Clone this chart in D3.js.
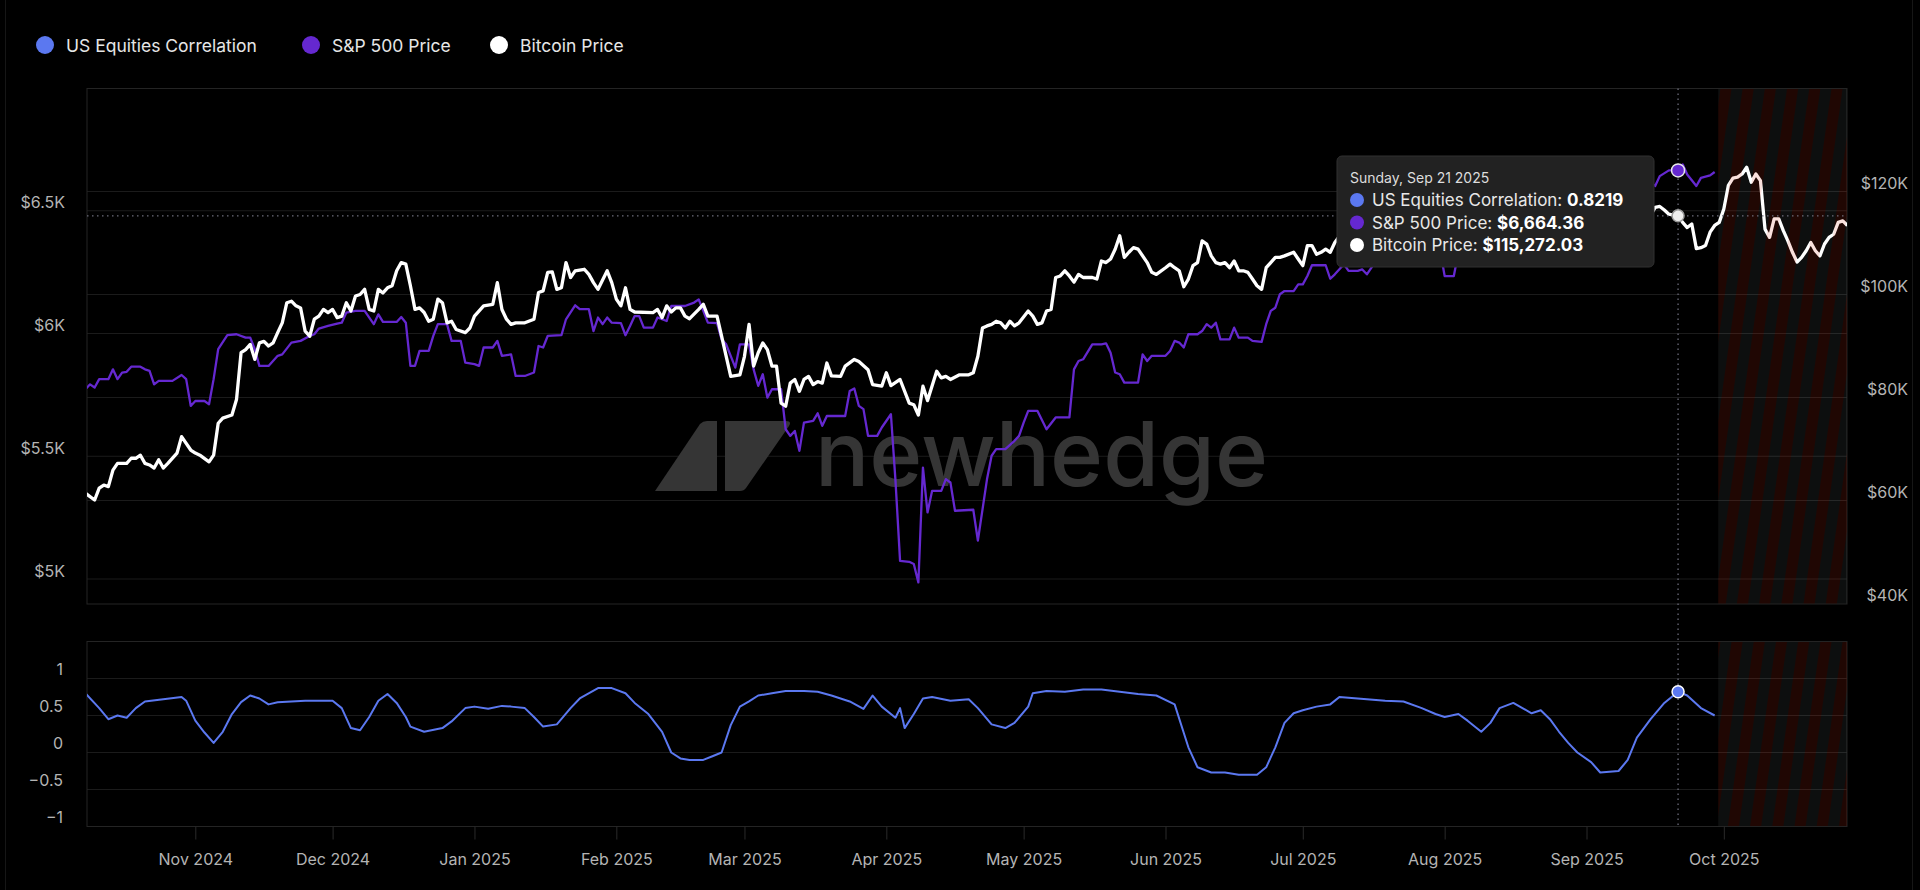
<!DOCTYPE html>
<html>
<head>
<meta charset="utf-8">
<script src="https://cdn.jsdelivr.net/npm/d3@7"></script>
<style>
html, body { margin: 0; padding: 0; background: #000; }
svg { display: block; font-family: Inter, "Noto Sans", sans-serif; }
</style>
</head>
<body>
<div id="chart"></div>
<script>
// ----- data -----
var legendNames = ['US Equities Correlation', 'S&P 500 Price', 'Bitcoin Price'];
var spxTicks = [5000, 5500, 6000, 6500];
var btcTicks = [40000, 60000, 80000, 100000, 120000];
var corrTicks = [-1, -0.5, 0, 0.5, 1];
var monthTicks = ['2024-11-01', '2024-12-01', '2025-01-01', '2025-02-01', '2025-03-01', '2025-04-01',
                  '2025-05-01', '2025-06-01', '2025-07-01', '2025-08-01', '2025-09-01', '2025-10-01'];

var btcPrice = [
  ['2024-10-08',61400],['2024-10-10',60100],['2024-10-11',62400],['2024-10-12',63000],['2024-10-13',62700],
  ['2024-10-14',65900],['2024-10-15',67200],['2024-10-17',67200],['2024-10-18',68200],['2024-10-19',68200],
  ['2024-10-20',68800],['2024-10-21',67200],['2024-10-22',66900],['2024-10-23',66300],['2024-10-24',67900],
  ['2024-10-25',66300],['2024-10-26',67200],['2024-10-28',69200],['2024-10-29',72400],['2024-10-31',69800],
  ['2024-11-01',69200],['2024-11-02',68800],['2024-11-04',67500],['2024-11-05',68800],['2024-11-06',75000],
  ['2024-11-07',76000],['2024-11-09',76600],['2024-11-10',79600],['2024-11-11',88700],['2024-11-12',89300],
  ['2024-11-13',90300],['2024-11-14',87400],['2024-11-15',90600],['2024-11-16',90900],['2024-11-17',90000],
  ['2024-11-18',90600],['2024-11-19',92600],['2024-11-20',94500],['2024-11-21',98400],['2024-11-22',98700],
  ['2024-11-23',97800],['2024-11-24',97400],['2024-11-25',92900],['2024-11-26',91900],['2024-11-27',95200],
  ['2024-11-28',95800],['2024-11-29',97100],['2024-11-30',96500],['2024-12-01',97100],['2024-12-02',95500],
  ['2024-12-03',95800],['2024-12-04',98400],['2024-12-05',96800],['2024-12-06',99700],['2024-12-07',100000],
  ['2024-12-08',101000],['2024-12-09',97100],['2024-12-10',96800],['2024-12-11',101000],['2024-12-12',100300],
  ['2024-12-13',101300],['2024-12-14',101700],['2024-12-15',104600],['2024-12-16',106200],['2024-12-17',105900],
  ['2024-12-18',101700],['2024-12-19',97100],['2024-12-20',97400],['2024-12-21',96500],['2024-12-22',94800],
  ['2024-12-23',95200],['2024-12-24',99100],['2024-12-25',98400],['2024-12-26',94500],['2024-12-27',94800],
  ['2024-12-28',93200],['2024-12-30',92600],['2024-12-31',93500],['2025-01-01',95800],['2025-01-03',97800],
  ['2025-01-05',98100],['2025-01-06',102300],['2025-01-07',97100],['2025-01-08',95200],['2025-01-09',94200],
  ['2025-01-10',94500],['2025-01-12',94500],['2025-01-14',95200],['2025-01-15',100400],['2025-01-16',100700],
  ['2025-01-17',104300],['2025-01-18',104400],['2025-01-19',101000],['2025-01-20',101300],['2025-01-21',106200],
  ['2025-01-22',103300],['2025-01-23',104600],['2025-01-25',104900],['2025-01-26',103900],['2025-01-27',102300],
  ['2025-01-28',101000],['2025-01-30',104600],['2025-01-31',102300],['2025-02-01',99100],['2025-02-02',97800],
  ['2025-02-03',101300],['2025-02-04',97100],['2025-02-05',96600],['2025-02-09',96500],['2025-02-10',97100],
  ['2025-02-11',95500],['2025-02-12',97800],['2025-02-13',96600],['2025-02-14',97400],['2025-02-15',97400],
  ['2025-02-16',95800],['2025-02-17',95300],['2025-02-19',97100],['2025-02-20',98100],['2025-02-21',95800],
  ['2025-02-23',95800],['2025-02-24',91900],['2025-02-26',84100],['2025-02-28',84400],['2025-03-01',88000],
  ['2025-03-02',94200],['2025-03-03',86100],['2025-03-04',88700],['2025-03-05',90600],['2025-03-06',89300],
  ['2025-03-07',86100],['2025-03-08',86100],['2025-03-09',78900],['2025-03-10',78300],['2025-03-11',82800],
  ['2025-03-12',83500],['2025-03-13',81200],['2025-03-14',83500],['2025-03-15',84100],['2025-03-16',82500],
  ['2025-03-17',83100],['2025-03-18',82800],['2025-03-19',86700],['2025-03-20',84200],['2025-03-22',84100],
  ['2025-03-23',86100],['2025-03-25',87400],['2025-03-26',87000],['2025-03-28',85400],['2025-03-29',82500],
  ['2025-03-31',82200],['2025-04-01',84800],['2025-04-02',82300],['2025-04-04',83500],['2025-04-06',78900],
  ['2025-04-07',78600],['2025-04-08',76600],['2025-04-09',82200],['2025-04-10',79400],['2025-04-12',85100],
  ['2025-04-13',83800],['2025-04-14',84100],['2025-04-15',83500],['2025-04-17',84400],['2025-04-19',84400],
  ['2025-04-20',84800],['2025-04-21',88000],['2025-04-22',93500],['2025-04-23',93900],['2025-04-24',94200],
  ['2025-04-25',94800],['2025-04-26',94500],['2025-04-27',93500],['2025-04-28',94800],['2025-04-29',93900],
  ['2025-04-30',94500],['2025-05-02',96800],['2025-05-03',95800],['2025-05-04',94200],['2025-05-05',94500],
  ['2025-05-06',96800],['2025-05-07',97100],['2025-05-08',103300],['2025-05-09',103600],['2025-05-10',104600],
  ['2025-05-11',103600],['2025-05-12',102400],['2025-05-13',103900],['2025-05-14',103300],['2025-05-16',103300],
  ['2025-05-17',103000],['2025-05-18',106500],['2025-05-19',106200],['2025-05-20',106900],['2025-05-21',108800],
  ['2025-05-22',111400],['2025-05-23',107200],['2025-05-24',108200],['2025-05-25',109100],['2025-05-26',108800],
  ['2025-05-28',106200],['2025-05-29',104300],['2025-05-30',103900],['2025-06-01',105200],['2025-06-02',105900],
  ['2025-06-03',105200],['2025-06-04',104600],['2025-06-05',101500],['2025-06-06',103000],['2025-06-07',105600],
  ['2025-06-08',106200],['2025-06-09',110400],['2025-06-10',109800],['2025-06-11',107500],['2025-06-12',106200],
  ['2025-06-13',105900],['2025-06-14',106200],['2025-06-15',105200],['2025-06-16',106500],['2025-06-17',104600],
  ['2025-06-18',104600],['2025-06-19',104300],['2025-06-20',103000],['2025-06-21',101700],['2025-06-22',101000],
  ['2025-06-23',105200],['2025-06-25',107200],['2025-06-26',107200],['2025-06-27',107500],['2025-06-29',108200],
  ['2025-06-30',106900],['2025-07-01',105600],['2025-07-02',109500],['2025-07-03',109500],['2025-07-04',107800],
  ['2025-07-05',108200],['2025-07-06',108800],['2025-07-07',108200],['2025-07-08',110100],['2025-07-09',111300],
  ['2025-07-10',115900],['2025-07-11',117500],['2025-07-13',119100],['2025-07-14',119800],['2025-07-15',117700],
  ['2025-07-16',118800],['2025-07-18',117900],['2025-07-20',117400],['2025-07-22',119900],['2025-07-24',118300],
  ['2025-07-25',117600],['2025-07-27',119400],['2025-07-29',117900],['2025-07-31',115800],['2025-08-02',112500],
  ['2025-08-04',115000],['2025-08-05',114100],['2025-08-07',117500],['2025-08-09',116500],['2025-08-10',119300],
  ['2025-08-12',120200],['2025-08-13',123300],['2025-08-14',118400],['2025-08-16',117500],['2025-08-18',116200],
  ['2025-08-19',112900],['2025-08-20',114300],['2025-08-21',112400],['2025-08-22',116900],['2025-08-24',113500],
  ['2025-08-25',110100],['2025-08-27',111300],['2025-08-28',112600],['2025-08-29',108400],['2025-08-31',108200],
  ['2025-09-02',111200],['2025-09-03',111700],['2025-09-05',110700],['2025-09-06',110200],['2025-09-08',112100],
  ['2025-09-09',111500],['2025-09-10',113900],['2025-09-11',115500],['2025-09-12',116100],['2025-09-14',115300],
  ['2025-09-15',115400],['2025-09-16',116900],['2025-09-17',117100],['2025-09-18',116400],['2025-09-19',115600],
  ['2025-09-20',115400],['2025-09-21',115272.03],['2025-09-22',114000],['2025-09-23',113000],['2025-09-24',113700],
  ['2025-09-25',108900],['2025-09-26',109100],['2025-09-27',109500],['2025-09-28',112100],['2025-09-29',113400],
  ['2025-09-30',114000],['2025-10-01',116600],['2025-10-02',121200],['2025-10-03',122600],['2025-10-04',122800],
  ['2025-10-05',123400],['2025-10-06',124700],['2025-10-07',121800],['2025-10-08',123400],['2025-10-09',122100],
  ['2025-10-10',112700],['2025-10-11',111100],['2025-10-12',114700],['2025-10-13',114700],['2025-10-14',112400],
  ['2025-10-15',110400],['2025-10-16',108200],['2025-10-17',106300],['2025-10-18',107200],['2025-10-19',108500],
  ['2025-10-20',110100],['2025-10-21',108500],['2025-10-22',107500],['2025-10-23',109800],['2025-10-24',111100],
  ['2025-10-25',111700],['2025-10-26',114000],['2025-10-27',114300],['2025-10-28',113400]
];

var spxPrice = [
  ['2024-10-08',5773],['2024-10-09',5793],['2024-10-10',5780],['2024-10-11',5814],['2024-10-13',5814],
  ['2024-10-14',5854],['2024-10-15',5814],['2024-10-16',5841],['2024-10-17',5844],['2024-10-18',5865],
  ['2024-10-20',5865],['2024-10-21',5854],['2024-10-22',5848],['2024-10-23',5793],['2024-10-24',5807],
  ['2024-10-27',5807],['2024-10-29',5831],['2024-10-30',5814],['2024-10-31',5705],['2024-11-01',5725],
  ['2024-11-03',5725],['2024-11-04',5712],['2024-11-05',5814],['2024-11-06',5936],['2024-11-08',5993],
  ['2024-11-10',5997],['2024-11-12',5983],['2024-11-13',5983],['2024-11-14',5936],['2024-11-15',5868],
  ['2024-11-17',5868],['2024-11-19',5909],['2024-11-20',5915],['2024-11-22',5963],['2024-11-24',5970],
  ['2024-11-26',5990],['2024-11-27',5997],['2024-11-28',6020],['2024-11-30',6031],['2024-12-02',6040],
  ['2024-12-03',6044],['2024-12-04',6085],['2024-12-06',6092],['2024-12-08',6092],['2024-12-10',6038],
  ['2024-12-11',6078],['2024-12-12',6047],['2024-12-15',6047],['2024-12-16',6067],['2024-12-17',6044],
  ['2024-12-18',5868],['2024-12-19',5868],['2024-12-20',5929],['2024-12-22',5929],['2024-12-23',5990],
  ['2024-12-24',6038],['2024-12-26',6038],['2024-12-27',5970],['2024-12-29',5970],['2024-12-30',5881],
  ['2025-01-01',5875],['2025-01-02',5868],['2025-01-03',5943],['2025-01-05',5943],['2025-01-06',5970],
  ['2025-01-07',5909],['2025-01-09',5915],['2025-01-10',5827],['2025-01-12',5827],['2025-01-14',5841],
  ['2025-01-15',5949],['2025-01-16',5943],['2025-01-17',5990],['2025-01-20',5993],['2025-01-21',6058],
  ['2025-01-23',6115],['2025-01-24',6099],['2025-01-26',6099],['2025-01-27',6010],['2025-01-28',6065],
  ['2025-01-29',6038],['2025-01-30',6065],['2025-01-31',6044],['2025-02-02',6042],['2025-02-03',5993],
  ['2025-02-04',6031],['2025-02-05',6071],['2025-02-06',6071],['2025-02-07',6024],['2025-02-09',6024],
  ['2025-02-10',6065],['2025-02-12',6051],['2025-02-13',6112],['2025-02-16',6112],['2025-02-18',6126],
  ['2025-02-19',6139],['2025-02-20',6092],['2025-02-21',6044],['2025-02-23',6042],['2025-02-24',5976],
  ['2025-02-25',5956],['2025-02-27',5861],['2025-02-28',5956],['2025-03-02',5956],['2025-03-03',5854],
  ['2025-03-04',5787],['2025-03-05',5834],['2025-03-06',5739],['2025-03-07',5773],['2025-03-09',5773],
  ['2025-03-10',5610],['2025-03-11',5583],['2025-03-12',5603],['2025-03-13',5522],['2025-03-14',5637],
  ['2025-03-16',5644],['2025-03-17',5675],['2025-03-18',5624],['2025-03-19',5664],['2025-03-23',5664],
  ['2025-03-24',5766],['2025-03-25',5776],['2025-03-26',5705],['2025-03-27',5692],['2025-03-28',5583],
  ['2025-03-30',5583],['2025-03-31',5617],['2025-04-02',5671],['2025-04-03',5400],['2025-04-04',5074],
  ['2025-04-06',5070],['2025-04-07',5061],['2025-04-08',4986],['2025-04-09',5454],['2025-04-10',5271],
  ['2025-04-11',5359],['2025-04-13',5359],['2025-04-14',5407],['2025-04-15',5393],['2025-04-16',5278],
  ['2025-04-20',5282],['2025-04-21',5156],['2025-04-23',5407],['2025-04-24',5502],['2025-04-25',5529],
  ['2025-04-27',5529],['2025-04-29',5563],['2025-04-30',5583],['2025-05-01',5637],['2025-05-02',5685],
  ['2025-05-04',5685],['2025-05-06',5610],['2025-05-08',5658],['2025-05-11',5658],['2025-05-12',5854],
  ['2025-05-13',5888],['2025-05-14',5895],['2025-05-16',5956],['2025-05-18',5956],['2025-05-19',5960],
  ['2025-05-20',5922],['2025-05-21',5841],['2025-05-22',5834],['2025-05-23',5800],['2025-05-26',5800],
  ['2025-05-27',5915],['2025-05-28',5888],['2025-05-29',5909],['2025-06-01',5909],['2025-06-02',5929],
  ['2025-06-03',5970],['2025-06-04',5963],['2025-06-05',5943],['2025-06-06',5997],['2025-06-08',5997],
  ['2025-06-09',6010],['2025-06-10',6038],['2025-06-11',6024],['2025-06-12',6044],['2025-06-13',5976],
  ['2025-06-15',5976],['2025-06-16',6024],['2025-06-17',5983],['2025-06-19',5983],['2025-06-20',5970],
  ['2025-06-22',5966],['2025-06-23',6038],['2025-06-24',6092],['2025-06-25',6105],['2025-06-26',6160],
  ['2025-06-27',6173],['2025-06-29',6173],['2025-06-30',6200],['2025-07-01',6200],['2025-07-02',6234],
  ['2025-07-03',6278],['2025-07-06',6278],['2025-07-07',6223],['2025-07-08',6241],['2025-07-10',6282],
  ['2025-07-11',6255],['2025-07-13',6255],['2025-07-14',6261],['2025-07-15',6241],['2025-07-16',6268],
  ['2025-07-17',6297],['2025-07-20',6297],['2025-07-21',6306],['2025-07-22',6309],['2025-07-23',6359],
  ['2025-07-24',6363],['2025-07-25',6389],['2025-07-28',6390],['2025-07-29',6371],['2025-07-30',6362],
  ['2025-07-31',6339],['2025-08-01',6234],['2025-08-03',6234],['2025-08-04',6330],['2025-08-05',6299],
  ['2025-08-06',6345],['2025-08-07',6340],['2025-08-08',6389],['2025-08-10',6389],['2025-08-11',6374],
  ['2025-08-12',6445],['2025-08-13',6466],['2025-08-14',6469],['2025-08-15',6450],['2025-08-18',6449],
  ['2025-08-19',6411],['2025-08-20',6396],['2025-08-21',6370],['2025-08-22',6467],['2025-08-25',6440],
  ['2025-08-26',6465],['2025-08-27',6481],['2025-08-28',6502],['2025-08-29',6460],['2025-09-01',6460],
  ['2025-09-02',6416],['2025-09-03',6448],['2025-09-04',6502],['2025-09-05',6482],['2025-09-08',6495],
  ['2025-09-09',6512],['2025-09-10',6532],['2025-09-11',6587],['2025-09-12',6584],['2025-09-15',6615],
  ['2025-09-16',6601],['2025-09-17',6641],['2025-09-19',6664.36],['2025-09-21',6664.36],['2025-09-22',6689],
  ['2025-09-23',6648],['2025-09-25',6601],['2025-09-26',6634],['2025-09-28',6644],['2025-09-29',6658]
];

var usEquitiesCorr = [
  ['2024-10-08',0.80],['2024-10-11',0.60],['2024-10-13',0.45],['2024-10-15',0.50],['2024-10-17',0.47],
  ['2024-10-19',0.60],['2024-10-21',0.69],['2024-10-25',0.72],['2024-10-29',0.75],['2024-10-30',0.70],
  ['2024-11-01',0.43],['2024-11-03',0.27],['2024-11-05',0.13],['2024-11-07',0.28],['2024-11-09',0.52],
  ['2024-11-11',0.68],['2024-11-13',0.77],['2024-11-15',0.73],['2024-11-17',0.65],['2024-11-19',0.68],
  ['2024-11-25',0.70],['2024-12-01',0.70],['2024-12-03',0.60],['2024-12-05',0.33],['2024-12-07',0.30],
  ['2024-12-09',0.48],['2024-12-11',0.70],['2024-12-13',0.79],['2024-12-15',0.67],['2024-12-17',0.48],
  ['2024-12-18',0.35],['2024-12-21',0.28],['2024-12-25',0.33],['2024-12-27',0.42],['2024-12-30',0.60],
  ['2025-01-01',0.62],['2025-01-04',0.59],['2025-01-07',0.63],['2025-01-09',0.62],['2025-01-12',0.60],
  ['2025-01-14',0.48],['2025-01-16',0.35],['2025-01-19',0.38],['2025-01-22',0.60],['2025-01-24',0.73],
  ['2025-01-28',0.87],['2025-01-31',0.87],['2025-02-03',0.80],['2025-02-05',0.67],['2025-02-08',0.52],
  ['2025-02-11',0.28],['2025-02-13',0.00],['2025-02-15',-0.08],['2025-02-17',-0.10],['2025-02-20',-0.10],
  ['2025-02-22',-0.05],['2025-02-24',0.00],['2025-02-26',0.37],['2025-02-28',0.62],['2025-03-02',0.69],
  ['2025-03-04',0.77],['2025-03-07',0.80],['2025-03-10',0.83],['2025-03-14',0.83],['2025-03-17',0.82],
  ['2025-03-20',0.77],['2025-03-24',0.69],['2025-03-27',0.59],['2025-03-29',0.77],['2025-03-31',0.62],
  ['2025-04-03',0.47],['2025-04-04',0.60],['2025-04-05',0.33],['2025-04-07',0.52],['2025-04-09',0.73],
  ['2025-04-11',0.75],['2025-04-15',0.70],['2025-04-19',0.72],['2025-04-21',0.60],['2025-04-24',0.38],
  ['2025-04-27',0.33],['2025-04-29',0.40],['2025-05-02',0.62],['2025-05-03',0.80],['2025-05-06',0.83],
  ['2025-05-10',0.82],['2025-05-14',0.85],['2025-05-18',0.85],['2025-05-22',0.82],['2025-05-26',0.79],
  ['2025-05-30',0.77],['2025-06-03',0.65],['2025-06-06',0.07],['2025-06-08',-0.20],['2025-06-11',-0.27],
  ['2025-06-14',-0.27],['2025-06-17',-0.30],['2025-06-21',-0.30],['2025-06-23',-0.20],['2025-06-25',0.07],
  ['2025-06-27',0.40],['2025-06-29',0.53],['2025-07-01',0.57],['2025-07-04',0.62],['2025-07-07',0.65],
  ['2025-07-09',0.75],['2025-07-13',0.73],['2025-07-19',0.70],['2025-07-23',0.69],['2025-07-27',0.60],
  ['2025-07-30',0.52],['2025-08-01',0.48],['2025-08-04',0.52],['2025-08-06',0.43],['2025-08-09',0.28],
  ['2025-08-11',0.40],['2025-08-13',0.60],['2025-08-16',0.67],['2025-08-18',0.60],['2025-08-20',0.53],
  ['2025-08-22',0.57],['2025-08-24',0.45],['2025-08-26',0.28],['2025-08-28',0.13],['2025-08-30',0.00],
  ['2025-09-02',-0.13],['2025-09-04',-0.27],['2025-09-08',-0.25],['2025-09-10',-0.10],['2025-09-12',0.20],
  ['2025-09-15',0.45],['2025-09-18',0.67],['2025-09-21',0.8219],['2025-09-23',0.77],['2025-09-26',0.60],
  ['2025-09-29',0.50]
];

// hovered point shown in the tooltip
var hoverDate = '2025-09-21';
var hoverTitle = 'Sunday, Sep 21 2025';
var hoverValues = [0.8219, 6664.36, 115272.03];
var shadedFrom = '2025-09-30';

// ----- layout -----
var svgwidth = 1920;
var svgheight = 890;
var left = 87, right = 1847;
var top1 = 88.5, bottom1 = 604;
var top2 = 641.5, bottom2 = 826.5;

var colCorr = '#5b78f0';
var colSpx = '#6528d0';
var colBtc = '#ffffff';

var parse = d3.timeParse('%Y-%m-%d');

var svg = d3.select('#chart')
            .append('svg')
            .attr('width', svgwidth)
            .attr('height', svgheight);

var defs = svg.append('defs');
defs.append('clipPath').attr('id', 'clipTop')
    .append('rect').attr('x', left).attr('y', top1).attr('width', right - left).attr('height', bottom1 - top1);
defs.append('clipPath').attr('id', 'clipBottom')
    .append('rect').attr('x', left).attr('y', top2).attr('width', right - left).attr('height', bottom2 - top2);

// diagonal stripes for the shaded last part
var pat = defs.append('pattern')
    .attr('id', 'stripes')
    .attr('patternUnits', 'userSpaceOnUse')
    .attr('width', 22).attr('height', 22)
    .attr('patternTransform', 'rotate(8)');
pat.append('rect').attr('x', 11).attr('width', 11).attr('height', 22).attr('fill', 'rgba(225,255,255,0.06)');
pat.append('rect').attr('x', 0).attr('width', 11).attr('height', 22).attr('fill', 'rgba(215,45,20,0.15)');

// ----- scales -----
var xscale = d3.scaleTime()
    .domain([new Date(2024, 9, 8, 8), new Date(2025, 9, 27, 22)])
    .range([left, right]);
var yspx = d3.scaleLinear().domain([5000, 7000]).range([579, 88]);
var ybtc = d3.scaleLinear().domain([40000, 140000]).range([603.5, 88.5]);
var ycorr = d3.scaleLinear().domain([-1, 1.5]).range([bottom2, top2]);

// page edges
svg.append('line').attr('x1', 5.5).attr('x2', 5.5).attr('y1', 0).attr('y2', svgheight).attr('stroke', '#161616');
svg.append('line').attr('x1', 1912.5).attr('x2', 1912.5).attr('y1', 0).attr('y2', svgheight).attr('stroke', '#161616');

// ----- legend -----
var legend = svg.append('g').attr('class', 'legend');
var legendX = [45, 311, 499];
var legendCols = [colCorr, colSpx, colBtc];
legendNames.forEach(function(name, i) {
    legend.append('circle')
        .attr('cx', legendX[i]).attr('cy', 45).attr('r', 9)
        .style('fill', legendCols[i]);
    legend.append('text')
        .attr('x', legendX[i] + 21).attr('y', 45)
        .attr('dominant-baseline', 'central')
        .style('font-size', '17.5px')
        .style('fill', '#e6e6e6')
        .text(name);
});

// ----- gridlines -----
var grid = svg.append('g').attr('class', 'grid');
spxTicks.forEach(function(v) {
    grid.append('line').attr('x1', left).attr('x2', right)
        .attr('y1', yspx(v)).attr('y2', yspx(v)).attr('stroke', '#1b1b1b');
});
btcTicks.slice(1).forEach(function(v) {
    grid.append('line').attr('x1', left).attr('x2', right)
        .attr('y1', ybtc(v)).attr('y2', ybtc(v)).attr('stroke', '#1b1b1b');
});
corrTicks.slice(1).forEach(function(v) {
    grid.append('line').attr('x1', left).attr('x2', right)
        .attr('y1', ycorr(v)).attr('y2', ycorr(v)).attr('stroke', '#1b1b1b');
});

// panel frames
svg.append('rect').attr('x', left).attr('y', top1).attr('width', right - left).attr('height', bottom1 - top1)
    .attr('fill', 'none').attr('stroke', '#242424');
svg.append('rect').attr('x', left).attr('y', top2).attr('width', right - left).attr('height', bottom2 - top2)
    .attr('fill', 'none').attr('stroke', '#242424');

// ----- watermark -----
var wm = svg.append('g').attr('class', 'watermark').style('fill', '#353535');
wm.append('path').attr('d', 'M655,491 L700,424 Q703,421 707,421 L717,421 L717,491 Z');
wm.append('path').attr('d', 'M725,421 L786,421 Q792,421 789,426 L746,488 Q744,491 740,491 L725,491 Z');
wm.append('text')
    .attr('x', 815).attr('y', 486)
    .attr('textLength', 453).attr('lengthAdjust', 'spacingAndGlyphs')
    .style('font-size', '90px').style('font-weight', 500)
    .text('newhedge');

// ----- axes labels -----
var axisStyle = function(g) {
    g.select('.domain').remove();
    g.selectAll('.tick line').remove();
    g.selectAll('text').style('font-size', '16px').style('fill', '#b4b4b4').style('font-family', 'Inter, sans-serif');
};

var spxAxis = d3.axisLeft(yspx).tickValues(spxTicks).tickSize(0).tickPadding(0)
    .tickFormat(function(d) { return '$' + d3.format('~')(d / 1000) + 'K'; });
svg.append('g').attr('transform', 'translate(65,-8)').call(spxAxis).call(axisStyle);

var btcAxis = d3.axisLeft(ybtc).tickValues(btcTicks).tickSize(0).tickPadding(0)
    .tickFormat(function(d) { return '$' + (d / 1000) + 'K'; });
svg.append('g').attr('transform', 'translate(1908,-8)').call(btcAxis).call(axisStyle);

var corrAxis = d3.axisLeft(ycorr).tickValues(corrTicks).tickSize(0).tickPadding(0)
    .tickFormat(d3.format('~'));
svg.append('g').attr('transform', 'translate(63,-9)').call(corrAxis).call(axisStyle);

var xaxis = d3.axisBottom(xscale)
    .tickValues(monthTicks.map(parse))
    .tickSize(13).tickPadding(14)
    .tickFormat(d3.timeFormat('%b %Y'));
svg.append('g').attr('transform', 'translate(0,' + bottom2 + ')')
    .call(xaxis)
    .call(function(g) {
        g.select('.domain').remove();
        g.selectAll('.tick line').attr('stroke', '#2a2a2a');
        g.selectAll('text').style('font-size', '16px').style('fill', '#b4b4b4').style('font-family', 'Inter, sans-serif');
    });

// ----- lines -----
var lineSpx = d3.line().x(function(d) { return xscale(parse(d[0])); }).y(function(d) { return yspx(d[1]); });
var lineBtc = d3.line().x(function(d) { return xscale(parse(d[0])); }).y(function(d) { return ybtc(d[1]); });
var lineCorr = d3.line().x(function(d) { return xscale(parse(d[0])); }).y(function(d) { return ycorr(d[1]); });

var gTop = svg.append('g').attr('clip-path', 'url(#clipTop)');
gTop.append('path').datum(spxPrice).attr('d', lineSpx)
    .attr('fill', 'none').attr('stroke', colSpx).attr('stroke-width', 2.3).attr('stroke-linejoin', 'round');
gTop.append('path').datum(btcPrice).attr('d', lineBtc)
    .attr('fill', 'none').attr('stroke', colBtc).attr('stroke-width', 3.3).attr('stroke-linejoin', 'round');

var gBottom = svg.append('g').attr('clip-path', 'url(#clipBottom)');
gBottom.append('path').datum(usEquitiesCorr).attr('d', lineCorr)
    .attr('fill', 'none').attr('stroke', colCorr).attr('stroke-width', 2).attr('stroke-linejoin', 'round');

// shaded region on top of the lines
var xs = xscale(parse(shadedFrom)) - 1;
svg.append('rect').attr('x', xs).attr('y', top1 + 0.5).attr('width', right - xs).attr('height', bottom1 - top1 - 1)
    .attr('fill', 'url(#stripes)');
svg.append('rect').attr('x', xs).attr('y', top2 + 0.5).attr('width', right - xs).attr('height', bottom2 - top2 - 1)
    .attr('fill', 'url(#stripes)');

// ----- crosshair -----
var hx = xscale(parse(hoverDate));
var hyBtc = ybtc(hoverValues[2]);
svg.append('line').attr('x1', hx).attr('x2', hx).attr('y1', top1).attr('y2', bottom2)
    .attr('stroke', '#6c6c7a').attr('stroke-width', 1.3).attr('stroke-dasharray', '1.5,3.5');
svg.append('line').attr('x1', left).attr('x2', right).attr('y1', hyBtc).attr('y2', hyBtc)
    .attr('stroke', '#6c6c7a').attr('stroke-width', 1.3).attr('stroke-dasharray', '1.5,3.5');

svg.append('circle').attr('cx', hx).attr('cy', ycorr(hoverValues[0])).attr('r', 6)
    .style('fill', colCorr).style('stroke', '#ffffff').style('stroke-width', 1.5);
svg.append('circle').attr('cx', hx).attr('cy', yspx(hoverValues[1])).attr('r', 6.5)
    .style('fill', colSpx).style('stroke', '#e8e8e8').style('stroke-width', 1.5);
svg.append('circle').attr('cx', hx).attr('cy', hyBtc).attr('r', 6)
    .style('fill', '#eeeeee').style('stroke', '#9a9a9a').style('stroke-width', 1.5);

// ----- tooltip -----
var tip = svg.append('g').attr('transform', 'translate(1337,156)');
tip.append('rect').attr('width', 317).attr('height', 111).attr('rx', 5)
    .attr('fill', '#222222').attr('stroke', '#303030');
tip.append('text').attr('x', 13).attr('y', 27)
    .style('font-size', '14px').style('fill', '#dddddd')
    .text(hoverTitle);
var tipFormats = [
    function(v) { return d3.format('.4f')(v); },
    function(v) { return '$' + d3.format(',.2f')(v); },
    function(v) { return '$' + d3.format(',.2f')(v); }
];
legendNames.forEach(function(name, i) {
    var cy = 44 + i * 22.5;
    tip.append('circle').attr('cx', 20).attr('cy', cy).attr('r', 7).style('fill', legendCols[i]);
    var t = tip.append('text').attr('x', 35).attr('y', cy)
        .attr('dominant-baseline', 'central')
        .style('font-size', '17px').style('fill', '#e8e8e8');
    t.append('tspan').text(name + ': ');
    t.append('tspan').style('font-weight', 700).style('fill', '#ffffff').text(tipFormats[i](hoverValues[i]));
});
</script>
</body>
</html>
